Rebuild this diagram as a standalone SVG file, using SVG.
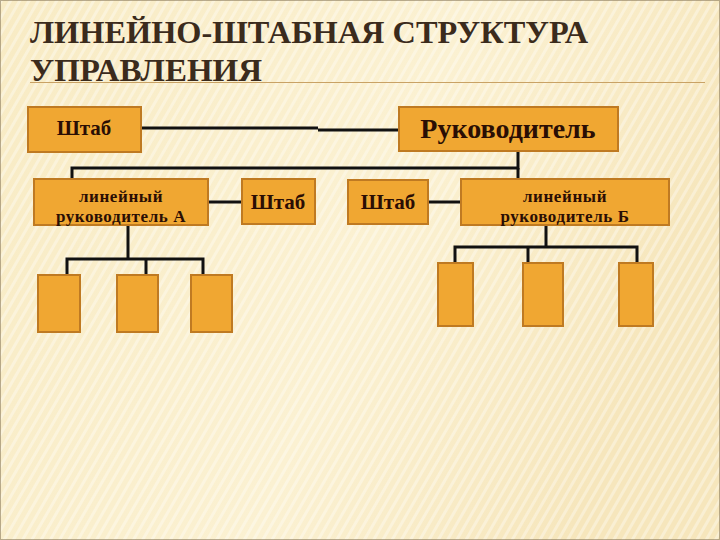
<svg xmlns="http://www.w3.org/2000/svg" width="720" height="540" viewBox="0 0 720 540">
<defs>
<linearGradient id="bg" x1="0" y1="0" x2="1" y2="0.3">
<stop offset="0" stop-color="#F8EBC4"/>
<stop offset="0.6" stop-color="#FBF1D2"/>
<stop offset="1" stop-color="#F6E6BC"/>
</linearGradient>
<pattern id="stripes" width="8" height="8" patternUnits="userSpaceOnUse" patternTransform="rotate(30)">
<rect width="3" height="8" fill="#FFFFFF" opacity="0.35"/>
</pattern>
<style>
.title{font-family:"Liberation Serif","Times New Roman",serif;font-weight:bold;font-size:32px;fill:#3B2B1C}
.box{fill:#F0A732;stroke:#BF7A22;stroke-width:2}
.lbl{font-family:"Liberation Serif","Times New Roman",serif;font-weight:bold;fill:#2A0E04;text-anchor:middle}
.big{font-size:28px}
.mid{font-size:21px}
.sm{font-size:17px;letter-spacing:0.6px}
.con{stroke:#111;stroke-width:3;fill:none}
</style>
</defs>
<rect width="720" height="540" fill="url(#bg)"/>
<rect width="720" height="540" fill="url(#stripes)"/>
<rect x="0.5" y="0.5" width="719" height="539" fill="none" stroke="#8A7A5A" stroke-width="1" opacity="0.6"/>
<g id="title">
<text class="title" x="30" y="43" textLength="558" lengthAdjust="spacingAndGlyphs">ЛИНЕЙНО-ШТАБНАЯ СТРУКТУРА</text>
<text class="title" x="30" y="81" textLength="232" lengthAdjust="spacingAndGlyphs">УПРАВЛЕНИЯ</text>
<line x1="30" y1="82.5" x2="705" y2="82.5" stroke="#C9A265" stroke-width="1"/>
</g>
<g id="connectors">
<polyline class="con" points="141,128 318,128"/>
<polyline class="con" points="318,130 399,130"/>
<polyline class="con" points="518,151 518,168 72,168 72,179"/>
<line class="con" x1="518" y1="168" x2="518" y2="179"/>
<line class="con" x1="208" y1="202" x2="242" y2="202"/>
<line class="con" x1="428" y1="202" x2="461" y2="202"/>
<polyline class="con" points="128,225 128,259"/>
<polyline class="con" points="67,275 67,259 203,259 203,275"/>
<line class="con" x1="146" y1="259" x2="146" y2="275"/>
<polyline class="con" points="546,225 546,247"/>
<polyline class="con" points="455,263 455,247 637,247 637,263"/>
<line class="con" x1="528" y1="247" x2="528" y2="263"/>
</g>
<g id="shtab-top">
<rect class="box" x="28" y="107" width="113" height="45"/>
<text class="lbl mid" x="84" y="135">Штаб</text>
</g>
<g id="rukovoditel">
<rect class="box" x="399" y="107" width="219" height="44"/>
<text class="lbl big" x="508" y="138">Руководитель</text>
</g>
<g id="lin-a">
<rect class="box" x="34" y="179" width="174" height="46"/>
<text class="lbl sm" x="121" y="202">линейный</text>
<text class="lbl sm" x="121" y="222">руководитель А</text>
</g>
<g id="shtab-a">
<rect class="box" x="242" y="179" width="73" height="45"/>
<text class="lbl mid" x="278" y="209">Штаб</text>
</g>
<g id="shtab-b">
<rect class="box" x="348" y="180" width="80" height="44"/>
<text class="lbl mid" x="388" y="209">Штаб</text>
</g>
<g id="lin-b">
<rect class="box" x="461" y="179" width="208" height="46"/>
<text class="lbl sm" x="565" y="202">линейный</text>
<text class="lbl sm" x="565" y="222">руководитель Б</text>
</g>
<g id="a1"><rect class="box" x="38" y="275" width="42" height="57"/></g>
<g id="a2"><rect class="box" x="117" y="275" width="41" height="57"/></g>
<g id="a3"><rect class="box" x="191" y="275" width="41" height="57"/></g>
<g id="b1"><rect class="box" x="438" y="263" width="35" height="63"/></g>
<g id="b2"><rect class="box" x="523" y="263" width="40" height="63"/></g>
<g id="b3"><rect class="box" x="619" y="263" width="34" height="63"/></g>
</svg>
